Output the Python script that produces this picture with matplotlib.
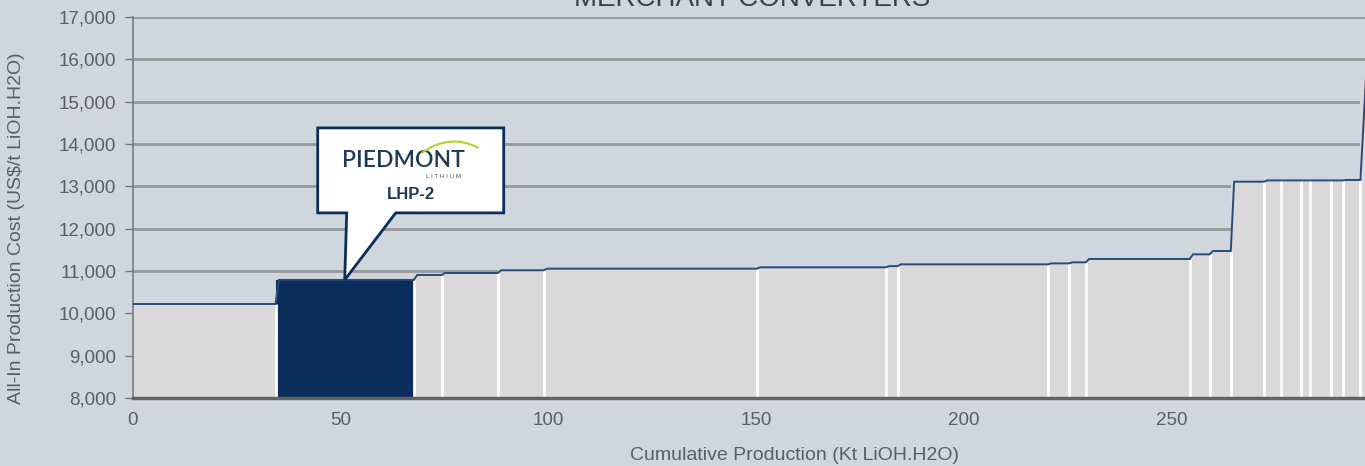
import numpy as np
import matplotlib
matplotlib.use("Agg")
import matplotlib.pyplot as plt
import matplotlib.transforms as mtransforms
from matplotlib.patches import Polygon, PathPatch
from matplotlib.path import Path

# ---- data ----
capacities = [34.3, 33.3, 6.7, 13.5, 11.1, 51.2, 31.1, 2.8, 36.2, 5.1, 4.0, 25.0,
              4.8, 5.1, 8.0, 4.0, 5.0, 2.1, 5.0, 2.9, 4.2, 5.0]
costs = [10220, 10790, 10906, 10953, 11017, 11055, 11087, 11115, 11157, 11180, 11205,
         11284, 11394, 11472, 13110, 13140, 13140, 13140, 13140, 13140, 13150, 15500]
highlight_index = 1
highlight_name = "LHP-2"
company = "PIEDMONT"
company_sub = "LITHIUM"
title = "MERCHANT CONVERTERS"
x_label = "Cumulative Production (Kt LiOH.H2O)"
y_label = "All-In Production Cost (US$/t LiOH.H2O)"
x_ticks = [0, 50, 100, 150, 200, 250]
y_ticks = [8000, 9000, 10000, 11000, 12000, 13000, 14000, 15000, 16000, 17000]

BG = "#cfd6dd"
BAR = "#d9d9d9"
NAVY = "#0b2d5c"
LINE = "#2a4a78"
TXT = "#5e5e5e"

plt.rcParams['font.family'] = ['Liberation Sans', 'DejaVu Sans']

fig = plt.figure(figsize=(13.65, 4.66), dpi=100, facecolor=BG)
ax = fig.add_axes([133/1365, 1-398/466, 1-133/1365, (398-17)/466])
ax.set_facecolor(BG)

caps = np.array(capacities)
h = np.array(costs, dtype=float)
lefts = np.concatenate([[0], np.cumsum(caps)[:-1]])
rights = lefts + caps
ymin = y_ticks[0]

colors = [NAVY if i == highlight_index else BAR for i in range(len(caps))]
ax.bar(lefts, h - ymin, width=caps, bottom=ymin, align='edge', color=colors,
       edgecolor='none', zorder=2)

# separators
sep_top = np.minimum(h[:-1], h[1:])
ax.vlines(rights[:-1], ymin, sep_top, colors='white', lw=2, zorder=3)

# top line with slight slants
slant = 0.8
xs, ys = [], []
for i in range(len(caps)):
    if i == 0:
        xs += [lefts[i], rights[i]]
    else:
        xs += [lefts[i] + (1.3 if i == len(caps) - 1 else slant), rights[i]]
    ys += [h[i], h[i]]
ax.plot(xs, ys, color=LINE, lw=1.4, zorder=4, solid_joinstyle='miter')

ax.set_xlim(0, 296.5)
ax.set_ylim(ymin, y_ticks[-1])
ax.set_yticks(y_ticks)
ax.set_yticklabels([f"{v:,}" for v in y_ticks])
ax.set_xticks(x_ticks)
ax.yaxis.grid(True, color="#979797", lw=2, zorder=1)
ax.set_axisbelow(True)
for s in ['top', 'right']:
    ax.spines[s].set_visible(False)
ax.spines['left'].set_color("#7a7a7a")
ax.spines['left'].set_linewidth(1.2)
ax.spines['bottom'].set_color("#606466")
ax.spines['bottom'].set_linewidth(2.5)
ax.spines['bottom'].set_zorder(5)
ax.tick_params(axis='y', colors="#7a7a7a", labelcolor=TXT, labelsize=13.5, length=6, width=1, pad=6)
ax.tick_params(axis='x', length=0, labelcolor=TXT, labelsize=13.5, pad=10)

ax.set_ylabel(y_label, fontsize=14, color=TXT)
ax.yaxis.set_label_coords(-0.0875, 0.446)
fig.text(795/1365, 1-456/466, x_label, ha='center', va='center', fontsize=14, color=TXT)

fig.text(752/1365, 1+1/466, title, ha='center', va='center', fontsize=20, color="#404040")

# callout
tip_x = (lefts[highlight_index] + rights[highlight_index]) / 2
tip_y = h[highlight_index]
trans = mtransforms.Affine2D() + mtransforms.ScaledTranslation(tip_x, tip_y, ax.transData)
verts = [(-27, 152), (159, 152), (159, 67), (51, 67), (0, 0), (2, 67), (-27, 67)]
ax.add_patch(Polygon(verts, closed=True, facecolor='white', edgecolor=NAVY, lw=2,
                     transform=trans, zorder=6, clip_on=False, joinstyle='miter'))
ax.text(59, 119, company, transform=trans, ha='center', va='center', fontsize=16.5,
        color="#1e3a55", zorder=7, fontweight='semibold', fontfamily=['Lato', 'DejaVu Sans'])
ax.text(99, 103, " ".join(company_sub), transform=trans, ha='center', va='center', fontsize=4.5,
        color="#555555", zorder=7)
ax.text(66, 85, highlight_name, transform=trans, ha='center', va='center', fontsize=12,
        color="#1e3a55", fontweight='bold', zorder=7)
arc = Path([(77, 127), (105, 147), (134, 132)], [Path.MOVETO, Path.CURVE3, Path.CURVE3])
ax.add_patch(PathPatch(arc, facecolor='none', edgecolor="#b3d23a", lw=1.6, transform=trans,
                       zorder=7, clip_on=False))

fig.savefig("out.png", dpi=100, facecolor=BG)
